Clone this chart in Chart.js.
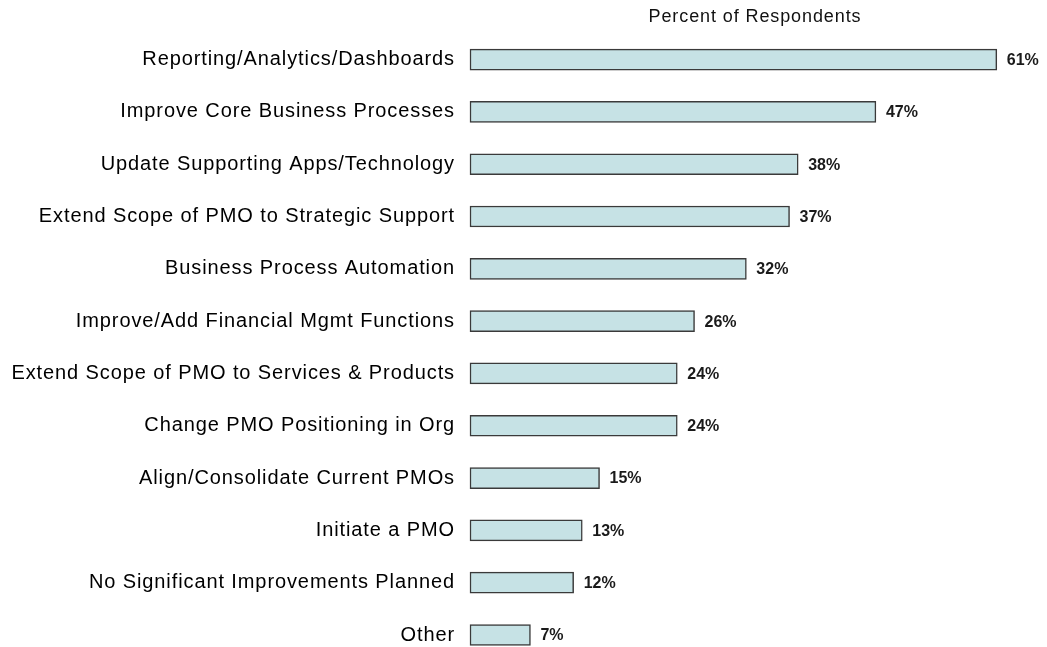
<!DOCTYPE html>
<html lang="en">
<head>
  <meta charset="UTF-8" />
  <title>Percent of Respondents</title>
  <script src="https://cdn.jsdelivr.net/npm/chart.js"></script>
  <style>
    body { margin: 0; background: #fff; }
    #wrap { width: 1047px; height: 647px; }
  </style>
</head>
<body>
  <div id="wrap"><canvas id="planChart"></canvas></div>

  <script>
    const categories = [
      'Reporting/Analytics/Dashboards',
      'Improve Core Business Processes',
      'Update Supporting Apps/Technology',
      'Extend Scope of PMO to Strategic Support',
      'Business Process Automation',
      'Improve/Add Financial Mgmt Functions',
      'Extend Scope of PMO to Services & Products',
      'Change PMO Positioning in Org',
      'Align/Consolidate Current PMOs',
      'Initiate a PMO',
      'No Significant Improvements Planned',
      'Other'
    ];
    const percents = [61, 47, 38, 37, 32, 26, 24, 24, 15, 13, 12, 7];
    const chartTitle = 'Percent of Respondents';

    const FONT = "Arial, 'Liberation Sans', sans-serif";

    // old-style spaced lettering
    const spacing = {
      id: 'spacing',
      beforeLayout(chart) { chart.ctx.letterSpacing = '0.9px'; },
      beforeDraw(chart) { chart.ctx.letterSpacing = '0.9px'; }
    };

    const valueLabels = {
      id: 'valueLabels',
      afterDatasetsDraw(chart) {
        const ctx = chart.ctx;
        const meta = chart.getDatasetMeta(0);
        ctx.save();
        ctx.letterSpacing = '0px';
        ctx.font = 'bold 16px ' + FONT;
        ctx.fillStyle = '#1a1a1a';
        ctx.textAlign = 'left';
        ctx.textBaseline = 'middle';
        meta.data.forEach((bar, i) => {
          ctx.fillText(percents[i] + '%', bar.x + 10, bar.y + 1);
        });
        ctx.restore();
      }
    };

    new Chart(document.getElementById('planChart'), {
      type: 'bar',
      data: {
        labels: categories,
        datasets: [{
          data: percents,
          backgroundColor: '#c6e2e5',
          borderColor: '#3a3a3a',
          borderWidth: 1.5,
          borderSkipped: false,
          barThickness: 21,
          clip: false
        }]
      },
      options: {
        indexAxis: 'y',
        responsive: true,
        maintainAspectRatio: false,
        animation: false,
        layout: { padding: { left: 0, right: 7, top: 0, bottom: 12 } },
        scales: {
          x: { display: false, min: 0, max: 66 },
          y: {
            offset: false,
            grid: { display: false },
            border: { display: false },
            ticks: {
              color: '#000',
              padding: 7,
              font: { family: FONT, size: 20 }
            },
            afterFit(s) {
              s.width = 470;
              s.paddingTop = 0;
              s.paddingBottom = 0;
            }
          }
        },
        plugins: {
          legend: { display: false },
          tooltip: { enabled: false },
          title: {
            display: true,
            text: chartTitle,
            fullSize: false,
            color: '#111',
            font: { family: FONT, size: 18, weight: 'normal' },
            padding: { top: 6, bottom: 32 }
          }
        }
      },
      plugins: [spacing, valueLabels]
    });
  </script>
</body>
</html>
